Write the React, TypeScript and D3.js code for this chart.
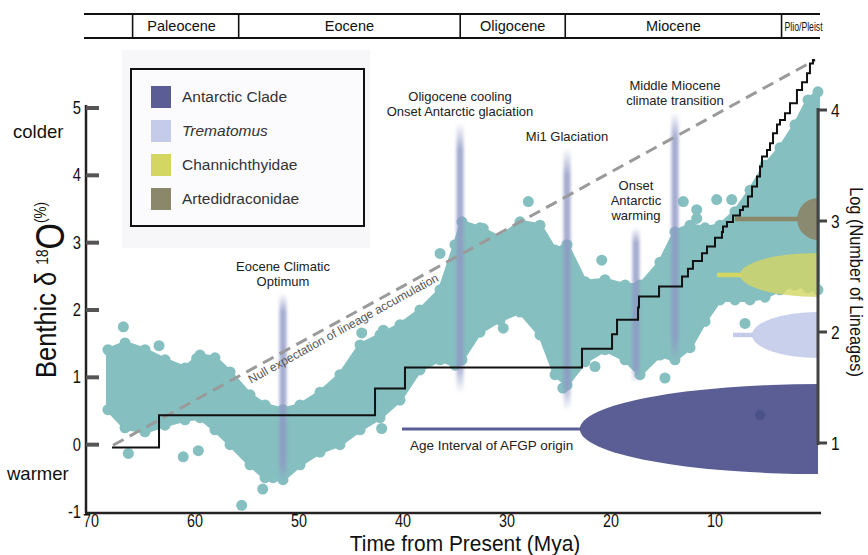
import React from "react";
import * as d3 from "d3";

const FONT = "'Liberation Sans', Arial, Helvetica, sans-serif";
const TEAL = "#85bfc0";

// geological epochs, Mya
const epochs = [
  { name: "Paleocene", start: 66, end: 55.8 },
  { name: "Eocene", start: 55.8, end: 34.5 },
  { name: "Oligocene", start: 34.5, end: 24.4 },
  { name: "Miocene", start: 24.4, end: 3.6 },
  { name: "Plio/Pleist", start: 3.6, end: 0 },
];

// dense part of the benthic d18O cloud: [Mya, low, high]
const cloudBand: [number, number, number][] = [
  [68.37, 0.52, 1.41], [66.73, 0.25, 1.51], [64.81, 0.19, 1.41], [62.88, 0.29, 1.26],
  [60.96, 0.37, 1.14], [59.52, 0.4, 1.33], [58.08, 0.22, 1.29], [56.63, 0.0, 1.08],
  [54.71, -0.3, 0.74], [53.27, -0.49, 0.59], [51.54, -0.52, 0.52], [49.9, -0.3, 0.59],
  [47.98, -0.11, 0.78], [46.06, 0.0, 1.04], [44.13, 0.22, 1.48], [42.21, 0.4, 1.63],
  [40.29, 0.66, 1.78], [38.37, 1.11, 2.0], [36.44, 1.26, 2.3], [35.0, 1.18, 2.97],
  [34.33, 1.26, 3.31], [32.6, 1.67, 3.22], [30.67, 1.85, 3.07], [28.75, 1.97, 3.31],
  [26.83, 1.63, 3.26], [25.38, 1.04, 2.89], [24.23, 0.89, 2.97], [22.5, 1.23, 2.42],
  [20.58, 1.41, 2.45], [18.65, 1.26, 2.37], [17.21, 1.04, 2.37], [15.29, 1.33, 2.71],
  [13.85, 1.26, 3.16], [12.4, 1.44, 3.26], [10.96, 1.83, 3.22], [9.52, 2.15, 3.26],
  [8.08, 2.15, 3.46], [6.63, 2.15, 3.78], [5.19, 2.19, 4.15], [3.75, 2.3, 4.41],
  [2.31, 2.37, 4.75], [1.06, 2.33, 5.12], [0.1, 2.3, 5.24],
];

// scattered single measurements outside the dense band: [Mya, d18O]
const cloudDots: [number, number][] = [
  [66.89, 1.75], [68.17, 1.38], [63.46, 1.47], [66.41, -0.13], [61.13, -0.18],
  [59.68, -0.09], [55.51, -0.9], [53.49, -0.66], [52.5, -0.49], [43.97, 1.66],
  [41.89, 1.7], [42.05, 0.24], [44.45, 0.32], [59.84, 1.28], [27.95, 3.61],
  [36.44, 2.84], [20.89, 2.74], [30.36, 1.73], [21.54, 1.16], [24.64, 0.84],
  [14.81, 0.99], [13.05, 3.61], [11.76, 3.49], [11.76, 3.36], [39.81, 1.78],
  [32.28, 3.21], [9.84, 3.64], [8.39, 3.64], [7.12, 1.8], [17.21, 1.16], [40.29, 1.01],
];

// lineage-through-time steps: [Mya, log(number of lineages)]
const lineageSteps: [number, number][] = [
  [67.98, 0.96], [63.46, 1.25], [42.69, 1.49], [39.81, 1.68], [22.79, 1.85],
  [19.9, 1.98], [19.42, 2.11], [17.4, 2.22], [17.31, 2.32], [15.38, 2.41],
  [13.17, 2.5], [12.6, 2.57], [12.12, 2.64], [11.25, 2.71], [10.77, 2.77],
  [10.0, 2.85], [9.33, 2.9], [9.23, 2.95], [8.85, 2.99], [8.27, 3.05],
  [7.6, 3.1], [7.31, 3.13], [6.83, 3.22], [6.44, 3.31], [5.96, 3.4],
  [5.67, 3.49], [5.48, 3.58], [5.0, 3.64], [4.71, 3.7], [4.42, 3.79],
  [4.04, 3.87], [3.75, 3.91], [3.27, 3.97], [2.79, 4.06], [2.12, 4.18],
  [1.63, 4.25], [1.15, 4.33], [0.87, 4.42], [0.58, 4.45], [0.38, 4.45],
];

const nullLine: [number, number][] = [[67.88, 0.98], [0.38, 4.45]];

const climateEvents = [
  { label: ["Eocene Climatic", "Optimum"], age: 51.54, top: 2.25, bottom: -0.55 },
  { label: ["Oligocene cooling", "Onset Antarctic glaciation"], age: 34.52, top: 4.78, bottom: 0.77 },
  { label: ["Mi1 Glaciation"], age: 24.23, top: 4.4, bottom: 0.51 },
  { label: ["Onset", "Antarctic", "warming"], age: 17.6, top: 3.23, bottom: 0.92 },
  { label: ["Middle Miocene", "climate transition"], age: 13.85, top: 4.94, bottom: 1.23 },
];

// age interval of AFGP origin per clade (line start, ellipse tip) at lineage level
const clades = [
  { name: "Antarctic Clade", color: "#5b5e95", from: 40.1, tip: 23.0, level: 1.126 },
  { name: "Trematomus", color: "#c4cce9", from: 8.27, tip: 6.44, level: 1.973 },
  { name: "Channichthyidae", color: "#d3d663", from: 9.8, tip: 7.6, level: 2.514 },
  { name: "Artedidraconidae", color: "#8a876b", from: 8.08, tip: 2.1, level: 3.018 },
];
const cladeHalfHeight: Record<string, number> = {
  "Antarctic Clade": 45, Trematomus: 23, Channichthyidae: 22, Artedidraconidae: 21,
};
const cladeOpacity: Record<string, number> = {
  "Antarctic Clade": 1, Trematomus: 0.92, Channichthyidae: 0.8, Artedidraconidae: 0.95,
};
const afgpMarker: [number, number][] = [[5.67, 1.25]];

const xTicks = [70, 60, 50, 40, 30, 20, 10];
const yTicks = [-1, 0, 1, 2, 3, 4, 5];
const rTicks = [1, 2, 3, 4];

// condensed-looking text (no narrow face installed)
const Narrow = ({ x, y, k = 0.82, children, ...rest }: any) => (
  <text transform={`translate(${x},${y}) scale(${k},1)`} {...rest}>
    {children}
  </text>
);

export default function App() {
  const x = d3.scaleLinear().domain([70, 0]).range([91, 819]);
  const y = d3.scaleLinear().domain([-1, 5]).range([512, 108]);
  const yr = d3.scaleLinear().domain([1, 4]).range([443, 110]);

  const band = d3
    .area<[number, number, number]>()
    .x(d => x(d[0]))
    .y0(d => y(d[1]))
    .y1(d => y(d[2]));

  const steps = d3
    .line<[number, number]>()
    .x(d => x(d[0]))
    .y(d => yr(d[1]))
    .curve(d3.curveStepAfter);

  const n0 = [x(nullLine[0][0]), yr(nullLine[0][1])];
  const n1 = [x(nullLine[1][0]), yr(nullLine[1][1])];
  const nAngle = (Math.atan2(n1[1] - n0[1], n1[0] - n0[0]) * 180) / Math.PI;
  const nf = 0.188;
  const nText = [n0[0] + (n1[0] - n0[0]) * nf, n0[1] + (n1[1] - n0[1]) * nf];

  const axisX = x(0) - 1;

  return (
    <div style={{ position: "absolute", left: 0, top: 0 }}>
      <svg width={868} height={555} style={{ display: "block", background: "#fff" }}>
        <defs>
          <linearGradient id="evg" x1="0" y1="0" x2="0" y2="1">
            <stop offset="0" stopColor="#8e97c4" stopOpacity="0" />
            <stop offset="0.1" stopColor="#8e97c4" stopOpacity="0.8" />
            <stop offset="0.9" stopColor="#8e97c4" stopOpacity="0.8" />
            <stop offset="1" stopColor="#8e97c4" stopOpacity="0" />
          </linearGradient>
          <filter id="soft" x="-2" y="-0.1" width="5" height="1.2">
            <feGaussianBlur stdDeviation="1.4" />
          </filter>
        </defs>

        {/* legend backdrop */}
        <rect x={122} y={50} width={248} height={198} fill="#f7f7f9" />

        {/* epoch bar */}
        <g fontFamily={FONT} fontSize={14.5} fill="#111" textAnchor="middle">
          <line x1={84} x2={820} y1={14} y2={14} stroke="#111" strokeWidth={2} />
          <line x1={84} x2={820} y1={38} y2={38} stroke="#111" strokeWidth={2} />
          {epochs.map(e => (
            <g key={e.name}>
              <line x1={x(e.start)} x2={x(e.start)} y1={14} y2={38} stroke="#111" strokeWidth={1.6} />
              {e.name === "Plio/Pleist" ? (
                <text x={x(e.start) + 3} y={31} fontSize={13.5} textAnchor="start" textLength={38} lengthAdjust="spacingAndGlyphs">
                  {e.name}
                </text>
              ) : (
                <text x={(x(e.start) + x(e.end)) / 2 - (e.name === "Paleocene" ? 4 : 0)} y={31}>{e.name}</text>
              )}
            </g>
          ))}
        </g>

        {/* benthic d18O cloud */}
        <g fill={TEAL}>
          <path d={band(cloudBand) || ""} stroke={TEAL} strokeWidth={4} strokeLinejoin="round" />
          {cloudBand.map((d, i) => (
            <g key={i}>
              <circle cx={x(d[0])} cy={y(d[1])} r={5.5} />
              <circle cx={x(d[0])} cy={y(d[2])} r={5.5} />
            </g>
          ))}
          {cloudDots.map((d, i) => (
            <circle key={i} cx={x(d[0])} cy={y(d[1])} r={5.5} />
          ))}
        </g>

        {/* climate events */}
        <g fontFamily={FONT} fontSize={13} fill="#222" textAnchor="middle">
          {climateEvents.map(ev => {
            const cx = x(ev.age);
            const top = y(ev.top);
            const n = ev.label.length;
            return (
              <g key={ev.label[0]}>
                <rect x={cx - 3.5} y={top} width={7} height={y(ev.bottom) - top} fill="url(#evg)" filter="url(#soft)" />
                {ev.label.map((l, i) => (
                  <text key={l} x={cx} y={top - 7 - (n - 1 - i) * 15}>{l}</text>
                ))}
              </g>
            );
          })}
        </g>

        {/* null expectation */}
        <line x1={n0[0]} y1={n0[1]} x2={n1[0]} y2={n1[1]} stroke="#9a9a9a" strokeWidth={3} strokeDasharray="12 7" />
        <text
          transform={`translate(${nText[0]},${nText[1]}) rotate(${nAngle})`}
          y={12.5}
          fontFamily={FONT}
          fontSize={12}
          fill="#555"
        >
          Null expectation of lineage accumulation
        </text>

        {/* AFGP origin intervals */}
        {clades.map(c => {
          const cy = yr(c.level);
          const rx = axisX - x(c.tip);
          const ry = cladeHalfHeight[c.name];
          return (
            <g key={c.name}>
              <line x1={x(c.from)} x2={x(c.tip) + 2} y1={cy} y2={cy} stroke={c.color} strokeWidth={c.name === "Antarctic Clade" ? 3 : 4.5} />
              <path
                d={`M${axisX},${cy - ry} A${rx},${ry} 0 0 0 ${axisX},${cy + ry} Z`}
                fill={c.color}
                fillOpacity={cladeOpacity[c.name]}
              />
            </g>
          );
        })}
        {afgpMarker.map((d, i) => (
          <circle key={i} cx={x(d[0])} cy={yr(d[1])} r={5} fill="#4a5189" />
        ))}
        <text x={410} y={450} fontFamily={FONT} fontSize={13.5} fill="#222">Age Interval of AFGP origin</text>

        {/* lineage through time */}
        <path d={steps(lineageSteps) || ""} fill="none" stroke="#111" strokeWidth={2} />

        {/* left axis */}
        <g fontFamily={FONT} fontSize={18} fill="#111">
          <line x1={86} x2={86} y1={y(5) - 3} y2={513} stroke="#222" strokeWidth={2.5} />
          {yTicks.map(t => (
            <g key={t}>
              {t > -1 && <line x1={86} x2={99} y1={y(t)} y2={y(t)} stroke="#555" strokeWidth={4} />}
              <Narrow x={81} y={y(t) + 6} textAnchor="end">{t}</Narrow>
            </g>
          ))}
        </g>
        <text x={13} y={138} fontFamily={FONT} fontSize={18.5} fill="#111">colder</text>
        <text x={7} y={480} fontFamily={FONT} fontSize={18.5} fill="#111">warmer</text>
        <text transform="translate(56,290) rotate(-90) scale(0.85,1)" textAnchor="middle" fill="#111" fontFamily={FONT}>
          <tspan fontSize={30}>Benthic δ </tspan>
          <tspan fontSize={16} dy={-8}>18</tspan>
          <tspan fontSize={40} dy={16}>O</tspan>
          <tspan fontSize={16} dy={-18}>(%)</tspan>
        </text>

        {/* bottom axis */}
        <g fontFamily={FONT} fontSize={17.5} fill="#111" textAnchor="middle">
          <line x1={85} x2={x(0) + 2} y1={513} y2={513} stroke="#222" strokeWidth={2.5} />
          {xTicks.map(t => (
            <Narrow key={t} x={x(t)} y={526.5}>{t}</Narrow>
          ))}
        </g>
        <Narrow x={465} y={550.5} k={0.93} textAnchor="middle" fontFamily={FONT} fontSize={22.5} fill="#111">
          Time from Present (Mya)
        </Narrow>

        {/* right axis */}
        <g fontFamily={FONT} fontSize={19} fill="#111">
          <line x1={axisX} x2={axisX} y1={yr(4) - 2} y2={yr(1) + 2} stroke="#444" strokeWidth={3} />
          {rTicks.map(t => (
            <g key={t}>
              <line x1={axisX} x2={axisX + 9} y1={yr(t)} y2={yr(t)} stroke="#444" strokeWidth={3} />
              <Narrow x={831} y={yr(t) + 7}>{t}</Narrow>
            </g>
          ))}
        </g>
        <text transform="translate(850,282) rotate(90) scale(0.86,1)" textAnchor="middle" fontFamily={FONT} fontSize={19} fill="#111">
          Log (Number of Lineages)
        </text>

        {/* legend */}
        <rect x={131} y={69} width={233} height={157} fill="#fbfbfd" stroke="#111" strokeWidth={2} />
        <g fontFamily={FONT} fontSize={15.5} fill="#333">
          {clades.map((c, i) => (
            <g key={c.name}>
              <rect x={151} y={86 + i * 34} width={20} height={22} fill={c.color} />
              <text x={182} y={102 + i * 34} fontStyle={c.name === "Trematomus" ? "italic" : "normal"}>
                {c.name}
              </text>
            </g>
          ))}
        </g>
      </svg>
    </div>
  );
}
